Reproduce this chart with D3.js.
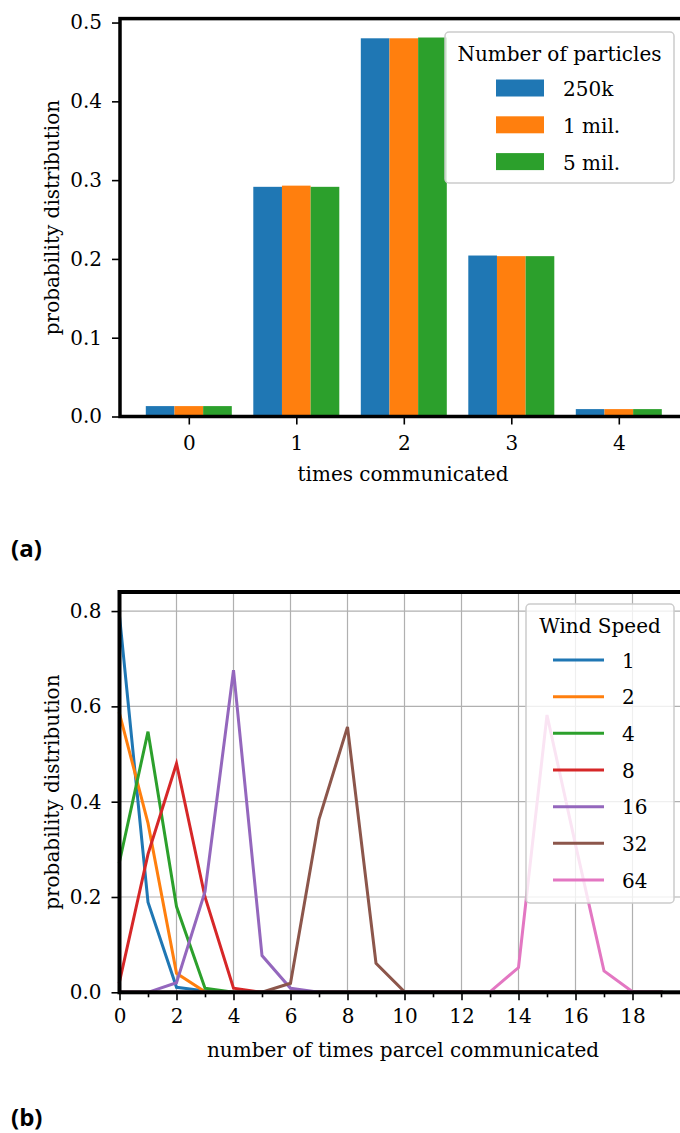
<!DOCTYPE html>
<html>
<head>
<meta charset="utf-8">
<script src="https://cdn.jsdelivr.net/npm/d3@7"></script>
<style>
  html, body { margin: 0; padding: 0; background: #fff; }
  svg { display: block; }
</style>
</head>
<body>
<svg id="chart" width="680" height="1133"></svg>
<script>
// ---------- Panel (a) data ----------
const categories = [0, 1, 2, 3, 4];
const seriesNamesA = ["250k", "1 mil.", "5 mil."];
const p250k = [0.0132, 0.2915, 0.4800, 0.2043, 0.0094];
const p1mil = [0.0132, 0.2930, 0.4800, 0.2035, 0.0094];
const p5mil = [0.0132, 0.2915, 0.4810, 0.2035, 0.0094];
const yTicksA = [0.0, 0.1, 0.2, 0.3, 0.4, 0.5];

// ---------- Panel (b) data ----------
const timesB = [0, 1, 2, 3, 4, 5, 6, 7, 8, 9, 10, 11, 12, 13, 14, 15, 16, 17, 18, 19];
const windNames = ["1", "2", "4", "8", "16", "32", "64"];
const ws1  = [0.790, 0.189, 0.0105, 0.003, 0, 0, 0, 0, 0, 0, 0, 0, 0, 0, 0, 0, 0, 0, 0, 0];
const ws2  = [0.585, 0.355, 0.040, 0.001, 0, 0, 0, 0, 0, 0, 0, 0, 0, 0, 0, 0, 0, 0, 0, 0];
const ws4  = [0.274, 0.547, 0.180, 0.0085, 0, 0, 0, 0, 0, 0, 0, 0, 0, 0, 0, 0, 0, 0, 0, 0];
const ws8  = [0.022, 0.290, 0.480, 0.200, 0.0085, 0, 0, 0, 0, 0, 0, 0, 0, 0, 0, 0, 0, 0, 0, 0];
const ws16 = [0, 0, 0.020, 0.211, 0.676, 0.077, 0.0085, 0, 0, 0, 0, 0, 0, 0, 0, 0, 0, 0, 0, 0];
const ws32 = [0, 0, 0, 0, 0, 0, 0.019, 0.363, 0.557, 0.061, 0.001, 0, 0, 0, 0, 0, 0, 0, 0, 0];
const ws64 = [0, 0, 0, 0, 0, 0, 0, 0, 0, 0, 0, 0, 0, 0.001, 0.052, 0.582, 0.310, 0.045, 0.001, 0];
const xTicksB = [0, 2, 4, 6, 8, 10, 12, 14, 16, 18];
const xGridB = [0, 2, 4, 6, 8, 10, 12, 14, 16, 18, 20];
const xMinorB = [1, 3, 5, 7, 9, 11, 13, 15, 17, 19];
const yTicksB = [0.0, 0.2, 0.4, 0.6, 0.8];

const tab10 = ["#1f77b4", "#ff7f0e", "#2ca02c", "#d62728", "#9467bd", "#8c564b", "#e377c2"];
const FONT = '"DejaVu Serif", serif';
const FS = 20;
const PANEL_FONT = '"Open Sans", "Noto Sans", sans-serif';

const svg = d3.select("#chart");

function styleAxis(g) {
  g.select(".domain").remove();
  g.selectAll(".tick line").attr("stroke", "#000").attr("stroke-width", 1.6);
  g.selectAll(".tick text").attr("font-family", FONT).attr("font-size", FS).attr("fill", "#000");
  g.attr("font-family", null).attr("font-size", null);
}

// =================== Panel (a) ===================
{
  const L = 120, R = 687.6, T = 18.6, B = 416.5;
  const x = d3.scaleLinear().domain([-0.64, 4.64]).range([L, R]);
  const y = d3.scaleLinear().domain([0, 0.505]).range([B, T]);
  const w = 0.8 / 3;
  const seriesA = [p250k, p1mil, p5mil];

  const gBars = svg.append("g");
  seriesA.forEach((vals, si) => {
    gBars.selectAll(null)
      .data(categories.map((c, i) => ({ c, v: vals[i] })))
      .join("rect")
      .attr("x", d => x(d.c + (si - 1) * w - w / 2))
      .attr("width", d => x(d.c + w / 2) - x(d.c - w / 2))
      .attr("y", d => y(d.v))
      .attr("height", d => y(0) - y(d.v))
      .attr("fill", tab10[si]);
  });

  svg.append("g").attr("transform", `translate(${L},0)`)
    .call(d3.axisLeft(y).tickValues(yTicksA).tickFormat(d3.format(".1f")).tickSize(8).tickPadding(10))
    .call(styleAxis);
  svg.append("g").attr("transform", `translate(0,${B})`)
    .call(d3.axisBottom(x).tickValues(categories).tickFormat(d3.format("d")).tickSize(8).tickPadding(11))
    .call(styleAxis);

  svg.append("rect").attr("x", L).attr("y", T).attr("width", R - L).attr("height", B - T)
    .attr("fill", "none").attr("stroke", "#000").attr("stroke-width", 3.5);

  svg.append("text").attr("font-family", FONT).attr("font-size", FS)
    .attr("text-anchor", "middle").attr("x", 403).attr("y", 481)
    .text("times communicated");
  svg.append("text").attr("font-family", FONT).attr("font-size", FS)
    .attr("text-anchor", "middle")
    .attr("transform", `translate(59,${(T + B) / 2}) rotate(-90)`)
    .text("probability distribution");

  const lg = svg.append("g");
  lg.append("rect").attr("x", 445).attr("y", 32).attr("width", 229).attr("height", 151)
    .attr("rx", 4).attr("fill", "#fff").attr("fill-opacity", 0.8)
    .attr("stroke", "#cccccc").attr("stroke-width", 1.5);
  lg.append("text").attr("font-family", FONT).attr("font-size", FS).attr("text-anchor", "middle")
    .attr("x", 559.5).attr("y", 61).text("Number of particles");
  seriesNamesA.forEach((name, i) => {
    const cy = 88 + i * 36.8;
    lg.append("rect").attr("x", 496).attr("y", cy - 8.5).attr("width", 48).attr("height", 17).attr("fill", tab10[i]);
    lg.append("text").attr("font-family", FONT).attr("font-size", FS)
      .attr("x", 563).attr("y", cy + 8).text(name);
  });

  svg.append("text").attr("font-family", PANEL_FONT).attr("font-weight", "bold")
    .attr("font-size", 24).attr("x", 11).attr("y", 557).text("(a)");
}

// =================== Panel (b) ===================
{
  const L = 119.5, R = 689.5, T = 592, B = 992.3;
  const x = d3.scaleLinear().domain([0, 20]).range([L, R]);
  const y = d3.scaleLinear().domain([0, 0.84]).range([B, T]);

  const grid = svg.append("g").attr("stroke", "#b0b0b0").attr("stroke-width", 1.2);
  grid.selectAll(null).data(xGridB).join("line")
    .attr("x1", d => x(d)).attr("x2", d => x(d)).attr("y1", T).attr("y2", B);
  grid.selectAll(null).data(yTicksB).join("line")
    .attr("x1", L).attr("x2", R).attr("y1", d => y(d)).attr("y2", d => y(d));

  const seriesB = [ws1, ws2, ws4, ws8, ws16, ws32, ws64];
  const line = d3.line().x((d, i) => x(timesB[i])).y(d => y(d));
  const gl = svg.append("g");
  seriesB.forEach((vals, si) => {
    gl.append("path").datum(vals).attr("d", line)
      .attr("fill", "none").attr("stroke", tab10[si]).attr("stroke-width", 3)
      .attr("stroke-linejoin", "miter").attr("stroke-linecap", "square");
  });

  svg.append("g").attr("transform", `translate(${L},0)`)
    .call(d3.axisLeft(y).tickValues(yTicksB).tickFormat(d3.format(".1f")).tickSize(8).tickPadding(10))
    .call(styleAxis);
  svg.append("g").attr("transform", `translate(0,${B})`)
    .call(d3.axisBottom(x).tickValues(xTicksB).tickFormat(d3.format("d")).tickSize(8).tickPadding(9))
    .call(styleAxis);
  svg.append("g").attr("transform", `translate(0,${B})`)
    .call(d3.axisBottom(x).tickValues(xMinorB).tickFormat("").tickSize(5))
    .call(styleAxis);

  svg.append("rect").attr("x", L).attr("y", T).attr("width", R - L).attr("height", B - T)
    .attr("fill", "none").attr("stroke", "#000").attr("stroke-width", 4);

  svg.append("text").attr("font-family", FONT).attr("font-size", FS)
    .attr("text-anchor", "middle").attr("x", 403).attr("y", 1057)
    .text("number of times parcel communicated");
  svg.append("text").attr("font-family", FONT).attr("font-size", FS)
    .attr("text-anchor", "middle")
    .attr("transform", `translate(59,${(T + B) / 2}) rotate(-90)`)
    .text("probability distribution");

  const lg = svg.append("g");
  lg.append("rect").attr("x", 526).attr("y", 604).attr("width", 148).attr("height", 299)
    .attr("rx", 4).attr("fill", "#fff").attr("fill-opacity", 0.8)
    .attr("stroke", "#cccccc").attr("stroke-width", 1.5);
  lg.append("text").attr("font-family", FONT).attr("font-size", FS).attr("text-anchor", "middle")
    .attr("x", 600).attr("y", 633).text("Wind Speed");
  windNames.forEach((name, i) => {
    const cy = 660 + i * 36.67;
    lg.append("line").attr("x1", 553).attr("x2", 604).attr("y1", cy).attr("y2", cy)
      .attr("stroke", tab10[i]).attr("stroke-width", 3);
    lg.append("text").attr("font-family", FONT).attr("font-size", FS)
      .attr("x", 622).attr("y", cy + 7.5).text(name);
  });

  svg.append("text").attr("font-family", PANEL_FONT).attr("font-weight", "bold")
    .attr("font-size", 24).attr("x", 11).attr("y", 1126).text("(b)");
}
</script>
</body>
</html>
